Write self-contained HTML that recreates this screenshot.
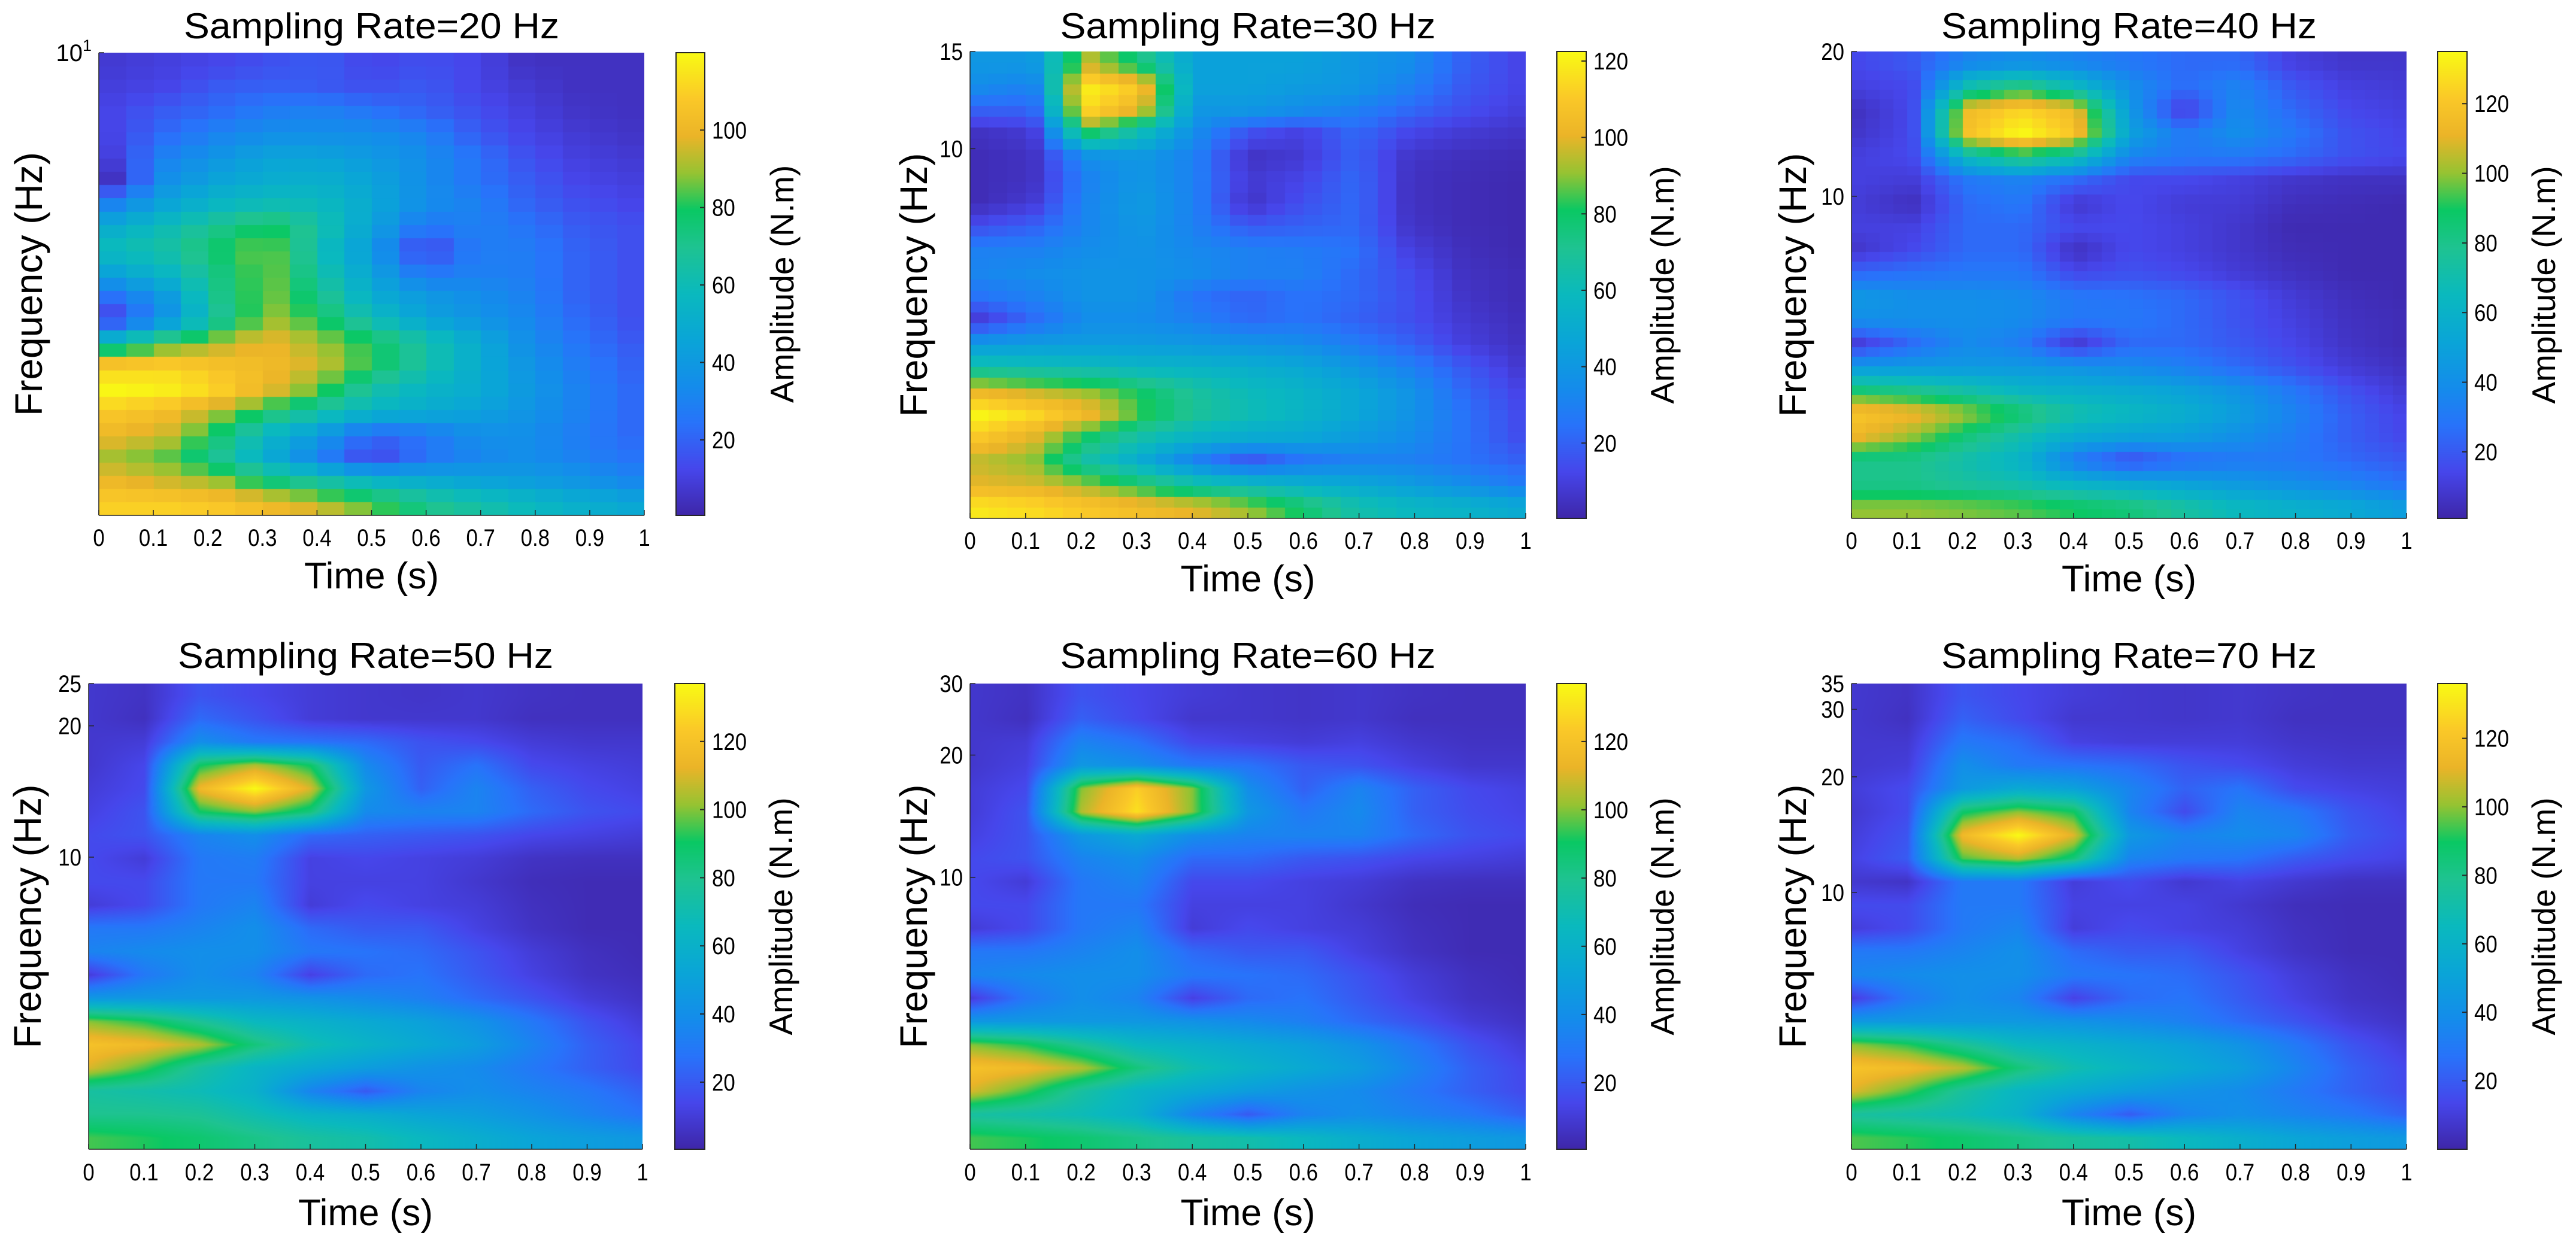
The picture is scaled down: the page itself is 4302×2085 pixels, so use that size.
<!DOCTYPE html>
<html><head><meta charset="utf-8"><title>Scalograms by sampling rate</title>
<style>
html,body{margin:0;padding:0;background:#fff;}
#root{position:relative;width:4302px;height:2085px;overflow:hidden;background:#fff;}
canvas{position:absolute;}
svg{position:absolute;left:0;top:0;}
text{font-family:"Liberation Sans",Arial,sans-serif;fill:#000;}
</style></head>
<body>
<div id="root">
<svg id="ov" width="4302" height="2085"></svg>
</div>
<script>
// ---- data: amplitude grids (rows = frequency bins top->bottom, cols = time 0..1 step 0.1) ----
const timeTicks = [0,0.1,0.2,0.3,0.4,0.5,0.6,0.7,0.8,0.9,1];
const timeTickLabels = ['0','0.1','0.2','0.3','0.4','0.5','0.6','0.7','0.8','0.9','1'];
const titles = ['Sampling Rate=20 Hz','Sampling Rate=30 Hz','Sampling Rate=40 Hz','Sampling Rate=50 Hz','Sampling Rate=60 Hz','Sampling Rate=70 Hz'];
const freqMax = [10,15,20,25,30,35];
const freqTicks = [[10],[10,15],[10,20],[10,20,25],[10,20,30],[10,20,30,35]];
const colorMin = [0.5,0.3,0.9,0.3,0.5,0];
const colorMax = [120,122.5,135,137,137,136];
const colorTicks = [[20,40,60,80,100],[20,40,60,80,100,120],[20,40,60,80,100,120],[20,40,60,80,100,120],[20,40,60,80,100,120],[20,40,60,80,100,120]];

const amp20 = [
[8,10,12,15,18,12,15,12,5,5,5],
[10,12,18,20,18,15,18,12,8,5,5],
[12,18,22,28,30,25,20,15,10,6,5],
[12,22,30,35,35,35,30,18,12,8,6],
[10,30,38,45,45,40,35,25,15,10,8],
[5,35,45,50,52,45,35,25,18,12,10],
[30,45,55,60,58,48,35,30,20,15,12],
[50,60,70,80,65,45,25,30,25,18,15],
[60,65,78,88,60,40,10,28,28,20,15],
[45,55,72,88,65,45,25,30,28,20,15],
[25,40,70,88,72,50,40,35,30,20,15],
[10,35,65,90,80,60,45,38,32,22,15],
[60,78,90,100,90,80,65,50,35,25,18],
[108,110,105,102,95,80,65,50,38,28,20],
[120,118,112,100,85,65,55,50,40,30,22],
[108,104,92,78,65,55,50,45,38,30,22],
[100,95,78,55,40,20,25,35,35,28,22],
[90,85,70,50,30,12,25,32,35,30,25],
[100,95,90,75,65,55,50,45,42,38,32],
[110,110,108,102,95,85,72,65,58,52,48]];

const amp30 = [
[40,40,95,75,45,45,45,40,35,20,12],
[35,30,120,110,45,45,42,40,30,18,12],
[20,20,115,100,40,40,35,30,22,15,10],
[5,8,80,60,35,15,10,22,12,8,6],
[3,5,35,40,30,5,8,20,6,4,3],
[3,5,30,40,30,8,12,22,5,3,2],
[3,8,32,42,30,5,15,22,5,3,2],
[15,20,32,40,30,18,20,22,6,3,2],
[30,30,35,38,33,30,28,25,10,4,2],
[32,35,38,38,35,30,30,22,14,5,3],
[25,30,38,38,25,20,25,22,15,6,3],
[8,22,35,35,30,22,25,20,15,8,4],
[40,42,42,42,40,38,35,28,20,10,5],
[65,62,60,56,55,52,48,40,30,18,8],
[100,95,90,80,68,60,55,48,38,22,12],
[122,115,105,85,70,62,56,48,38,25,14],
[110,100,80,65,55,50,48,42,35,25,15],
[95,90,65,50,30,15,25,30,30,25,20],
[100,98,90,78,65,58,52,48,42,35,28],
[118,115,110,105,100,92,80,65,58,55,50]];

const amp40 = [
[15,20,35,40,35,30,25,25,12,8,8],
[12,15,70,85,65,40,25,35,20,12,10],
[6,15,115,125,115,45,10,38,25,15,12],
[8,15,118,135,120,50,30,40,30,18,14],
[12,15,65,85,70,35,30,30,25,18,15],
[12,10,30,35,25,15,15,12,8,6,6],
[10,5,25,30,8,15,10,10,5,4,3],
[12,12,25,25,15,15,12,8,3,3,3],
[8,15,25,25,5,15,12,8,4,3,3],
[25,28,30,30,15,18,15,10,6,3,3],
[45,40,40,38,30,28,25,18,10,5,3],
[40,40,40,38,30,30,25,18,12,6,4],
[10,25,38,32,8,25,25,20,14,7,4],
[45,45,45,45,42,38,33,25,18,10,6],
[85,80,72,62,58,55,50,42,30,18,10],
[120,114,102,88,72,65,58,48,35,22,14],
[112,100,84,70,55,50,48,40,32,22,15],
[80,80,70,60,30,15,25,30,30,25,20],
[80,80,75,70,60,55,50,45,40,35,28],
[100,100,98,95,90,85,75,65,60,55,48]];

const amp50 = [
[8,6,18,14,10,8,7,8,6,5,5],
[8,5,25,18,10,8,8,8,5,5,5],
[8,10,40,30,28,25,18,15,10,8,8],
[8,14,90,105,90,38,20,28,15,12,10],
[10,15,115,137,110,45,22,35,22,15,12],
[12,18,90,100,85,38,35,35,25,18,15],
[15,18,35,40,25,22,20,18,14,12,10],
[15,10,30,32,12,14,12,10,6,5,5],
[15,15,30,30,12,12,12,8,4,3,3],
[10,15,30,35,10,15,12,10,5,3,3],
[30,30,35,40,25,20,20,12,6,3,3],
[35,38,40,40,30,28,25,18,10,5,3],
[10,30,40,35,12,25,28,20,12,6,4],
[45,45,45,45,42,38,33,25,18,10,6],
[100,92,78,65,60,55,50,42,30,18,10],
[120,116,105,85,70,62,55,48,35,22,14],
[110,95,75,62,55,48,42,38,30,22,15],
[75,72,68,60,35,20,35,40,35,30,22],
[80,80,78,70,62,58,52,48,42,35,28],
[95,92,88,82,76,72,65,58,52,48,45]];

const amp60 = [
[8,6,18,14,10,8,7,8,6,5,5],
[8,5,22,15,8,8,7,8,5,5,5],
[8,10,35,28,15,12,10,12,8,6,6],
[8,12,45,40,30,28,20,18,12,8,8],
[10,15,100,125,100,40,22,35,22,15,12],
[10,18,105,130,100,45,30,38,22,16,13],
[12,18,45,55,40,35,35,35,25,18,15],
[15,18,35,40,25,25,20,18,14,12,10],
[15,10,30,35,15,15,12,10,6,5,5],
[15,15,30,30,12,12,12,8,4,3,3],
[10,15,30,35,10,15,12,10,5,3,3],
[30,30,35,40,25,20,20,12,6,3,3],
[35,38,40,40,30,28,25,18,10,5,3],
[10,30,40,35,12,25,28,20,12,6,4],
[45,45,45,45,42,38,33,25,18,10,6],
[100,92,78,65,60,55,50,42,30,18,10],
[120,116,105,85,70,62,55,48,35,22,14],
[110,95,75,62,55,48,42,38,30,22,15],
[75,72,68,60,35,20,35,40,35,30,22],
[95,92,88,82,76,72,65,58,52,48,45]];

const amp70 = [
[8,6,18,14,10,8,7,8,6,5,5],
[8,5,22,15,8,8,7,8,5,5,5],
[8,8,30,25,12,10,10,10,7,6,6],
[8,10,40,30,28,25,18,15,10,8,8],
[10,15,45,55,50,35,22,28,15,12,10],
[8,15,88,100,90,35,15,35,30,18,12],
[10,18,115,136,110,45,35,38,35,20,14],
[12,20,95,105,85,35,30,28,20,15,12],
[8,6,30,30,10,15,8,12,8,5,5],
[15,15,30,30,12,12,12,8,4,3,3],
[10,15,30,35,10,15,12,10,5,3,3],
[30,30,35,40,25,20,20,12,6,3,3],
[35,38,40,40,30,28,25,18,10,5,3],
[10,30,40,35,12,25,28,20,12,6,4],
[45,45,45,45,42,38,33,25,18,10,6],
[100,92,78,65,60,55,50,42,30,18,10],
[120,116,105,85,70,62,55,48,35,22,14],
[110,95,75,62,55,48,42,38,30,22,15],
[75,72,68,60,35,20,35,40,35,30,22],
[95,92,88,82,76,72,65,58,52,48,45]];

const grids = [amp20,amp30,amp40,amp50,amp60,amp70];
const freqMin = 2.14;

// ---- layout ----
const layout = [
 {L:165,R:1076,T:88,B:861,cbL:1129,cbR:1177,bx:20,by:35,fx:48,ax:1306},
 {L:1620,R:2548,T:86,B:866,cbL:2600,cbR:2649,bx:30,by:43,fx:1526,ax:2776},
 {L:3092,R:4019,T:86,B:866,cbL:4071,cbR:4120,bx:40,by:49,fx:2994,ax:4248},
 {L:148,R:1073,T:1142,B:1920,cbL:1127,cbR:1177,bx:0,by:0,fx:46,ax:1304},
 {L:1620,R:2548,T:1142,B:1920,cbL:2600,cbR:2649,bx:0,by:0,fx:1526,ax:2776},
 {L:3092,R:4019,T:1142,B:1920,cbL:4071,cbR:4120,bx:0,by:0,fx:2994,ax:4248}
];

const stops = [
[0.0,62,38,168],[0.1,70,70,235],[0.2,40,115,250],[0.28,20,140,235],[0.38,10,165,215],
[0.48,10,185,190],[0.58,30,195,145],[0.66,10,200,100],[0.74,150,195,50],[0.82,235,180,40],
[0.9,250,200,40],[1.0,249,250,20]];
function cmap(t){
  t=Math.max(0,Math.min(1,t));
  for(let i=1;i<stops.length;i++){
    if(t<=stops[i][0]){
      const a=stops[i-1],b=stops[i],f=(t-a[0])/(b[0]-a[0]);
      return [a[1]+(b[1]-a[1])*f,a[2]+(b[2]-a[2])*f,a[3]+(b[3]-a[3])*f];
    }
  }
  return [249,250,20];
}
function sample(g,u,v){
  const nr=g.length,nc=g[0].length;
  let gx=u*(nc-1); let gy=v*nr-0.5;
  gx=Math.max(0,Math.min(nc-1,gx)); gy=Math.max(0,Math.min(nr-1,gy));
  const x0=Math.floor(gx),y0=Math.floor(gy),x1=Math.min(nc-1,x0+1),y1=Math.min(nr-1,y0+1);
  const fx=gx-x0,fy=gy-y0;
  const a=g[y0][x0]*(1-fx)+g[y0][x1]*fx, b=g[y1][x0]*(1-fx)+g[y1][x1]*fx;
  return a*(1-fy)+b*fy;
}

const root=document.getElementById('root');
const svg=document.getElementById('ov');
const NS='http://www.w3.org/2000/svg';
function txt(x,y,s,size,anchor,name,compress,rot){
  const el=document.createElementNS(NS,'text');
  
  
  el.setAttribute('x',x); el.setAttribute('y',y);
  el.setAttribute('font-size',size);
  el.setAttribute('text-anchor',anchor);
  if(rot){ el.setAttribute('transform','rotate(-90 '+x+' '+y+')'); el.setAttribute('dominant-baseline','central'); }
  el.textContent=s;
  svg.appendChild(el);
  if(compress){ const w=el.getComputedTextLength(); el.setAttribute('textLength',w*compress); el.setAttribute('lengthAdjust','spacingAndGlyphs'); }
  return el;
}
function line(x1,y1,x2,y2,name,w){
  const el=document.createElementNS(NS,'line');
  
  
  el.setAttribute('x1',x1);el.setAttribute('y1',y1);el.setAttribute('x2',x2);el.setAttribute('y2',y2);
  el.setAttribute('stroke','#262626');el.setAttribute('stroke-width',w||2);
  svg.appendChild(el);
}

layout.forEach((p,k)=>{
  const W=p.R-p.L,H=p.B-p.T,g=grids[k],cmin=colorMin[k],cmax=colorMax[k];
  const cv=document.createElement('canvas');
  
  
  cv.width=W;cv.height=H;cv.style.left=p.L+'px';cv.style.top=p.T+'px';
  root.insertBefore(cv,svg);
  const ctx=cv.getContext('2d'),img=ctx.createImageData(W,H),d=img.data;
  for(let y=0;y<H;y++){
    let v=y/H; if(p.by){v=(Math.floor(v*p.by)+0.5)/p.by;}
    for(let x=0;x<W;x++){
      let u=x/W; if(p.bx){u=Math.floor(u*p.bx)/(p.bx-1);}
      const val=sample(g,u,v),c=cmap((val-cmin)/(cmax-cmin)),i=(y*W+x)*4;
      d[i]=c[0];d[i+1]=c[1];d[i+2]=c[2];d[i+3]=255;
    }
  }
  ctx.putImageData(img,0,0);
  const cw=p.cbR-p.cbL;
  const cb=document.createElement('canvas');
  
  
  cb.width=cw;cb.height=H;cb.style.left=p.cbL+'px';cb.style.top=p.T+'px';
  root.insertBefore(cb,svg);
  const c2=cb.getContext('2d');
  for(let y=0;y<H;y++){const c=cmap(1-y/H);c2.fillStyle='rgb('+c.map(Math.round).join(',')+')';c2.fillRect(0,y,cw,1);}
  const box=document.createElementNS(NS,'rect');
  
  
  box.setAttribute('x',p.cbL);box.setAttribute('y',p.T);box.setAttribute('width',cw);box.setAttribute('height',H);
  box.setAttribute('fill','none');box.setAttribute('stroke','#262626');box.setAttribute('stroke-width',2);
  svg.appendChild(box);
  colorTicks[k].forEach(v=>{
    const y=p.B-(v-cmin)/(cmax-cmin)*H;
    line(p.cbR-8,y,p.cbR,y,'colorbar-tick',2);
    txt(p.cbR+12,y+14,String(v),40,'start','colorbar-tick-label',0.87);
  });
  line(p.L,p.T,p.L,p.B,'y-axis-line',1.5);
  line(p.L,p.B,p.R,p.B,'x-axis-line',1.5);
  timeTicks.forEach((t,i)=>{
    const x=p.L+t*W;
    line(x,p.B,x,p.B-9,'x-tick',1.5);
    txt(x,p.B+(k<3?51:52),timeTickLabels[i],40,'middle','x-tick-label',0.87);
  });
  const lmin=Math.log10(freqMin),lmax=Math.log10(freqMax[k]);
  freqTicks[k].forEach(f=>{
    const y=p.B-(Math.log10(f)-lmin)/(lmax-lmin)*H;
    line(p.L,y,p.L+9,y,'y-tick',1.5);
    if(k===0){
      const el=txt(p.L-12,y+14,'10',40,'end','y-tick-label',0.87);
      el.removeAttribute('textLength');
      const sp=document.createElementNS(NS,'tspan');
      sp.setAttribute('font-size','27');sp.setAttribute('dy','-17');sp.textContent='1';
      el.appendChild(sp);
    } else {
      txt(p.L-12,y+14,String(f),40,'end','y-tick-label',0.87);
    }
  });
  txt((p.L+p.R)/2,k<3?64:1116,titles[k],60,'middle','chart-title',0);
  svg.lastChild.setAttribute('textLength',627);svg.lastChild.setAttribute('lengthAdjust','spacingAndGlyphs');
  txt((p.L+p.R)/2,p.B+(k<3?122:127),'Time (s)',62,'middle','x-axis-title',0);
  txt(p.fx,(p.T+p.B)/2,'Frequency (Hz)',64,'middle','y-axis-title',0,true);
  txt(p.ax,(p.T+p.B)/2,'Amplitude (N.m)',55,'middle','colorbar-title',0,true);
});
</script>
</body></html>
